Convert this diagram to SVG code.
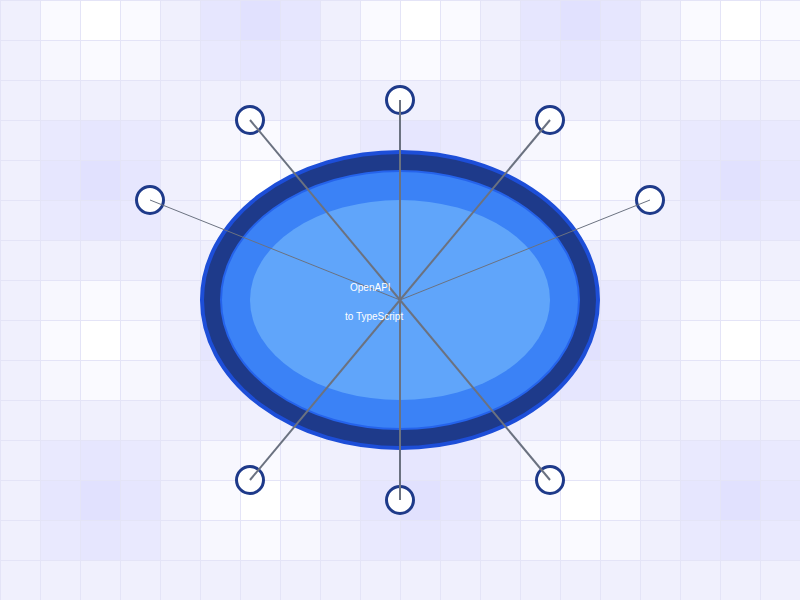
<svg xmlns="http://www.w3.org/2000/svg" xmlns:xlink="http://www.w3.org/1999/xlink" width="800" height="600" viewBox="0 0 800 600">
<style>
.p10{fill:#ffffff}.p7{fill:#fafaff}.p5{fill:#f7f7fe}.z{fill:#f0f0fd}.n5{fill:#e9e9fe}.n7{fill:#e6e6fe}.n10{fill:#e1e1fe}
.grid{fill:none;stroke:#e4e4f7;stroke-width:1}
.conn{stroke:#6b7280;stroke-width:2;fill:none}
.conn.thin{stroke-width:1}
.leaf{fill:#ffffff;stroke:#1e3a8a;stroke-width:3}
.lbl{font-family:"Liberation Sans",Arial,sans-serif;font-size:10px;fill:#ffffff}
</style>
<defs>
<g id="rA"><rect class="p7" x="40" width="40" height="40"/><rect class="p10" x="80" width="40" height="40"/><rect class="p7" x="120" width="40" height="40"/><rect class="n7" x="200" width="40" height="40"/><rect class="n10" x="240" width="40" height="40"/><rect class="n7" x="280" width="40" height="40"/><rect class="p7" x="360" width="40" height="40"/><rect class="p10" x="400" width="40" height="40"/><rect class="p7" x="440" width="40" height="40"/><rect class="n7" x="520" width="40" height="40"/><rect class="n10" x="560" width="40" height="40"/><rect class="n7" x="600" width="40" height="40"/><rect class="p7" x="680" width="40" height="40"/><rect class="p10" x="720" width="40" height="40"/><rect class="p7" x="760" width="40" height="40"/></g>
<g id="rB"><rect class="p5" x="40" width="40" height="40"/><rect class="p7" x="80" width="40" height="40"/><rect class="p5" x="120" width="40" height="40"/><rect class="n5" x="200" width="40" height="40"/><rect class="n7" x="240" width="40" height="40"/><rect class="n5" x="280" width="40" height="40"/><rect class="p5" x="360" width="40" height="40"/><rect class="p7" x="400" width="40" height="40"/><rect class="p5" x="440" width="40" height="40"/><rect class="n5" x="520" width="40" height="40"/><rect class="n7" x="560" width="40" height="40"/><rect class="n5" x="600" width="40" height="40"/><rect class="p5" x="680" width="40" height="40"/><rect class="p7" x="720" width="40" height="40"/><rect class="p5" x="760" width="40" height="40"/></g>
<g id="rC"><rect class="n5" x="40" width="40" height="40"/><rect class="n7" x="80" width="40" height="40"/><rect class="n5" x="120" width="40" height="40"/><rect class="p5" x="200" width="40" height="40"/><rect class="p7" x="240" width="40" height="40"/><rect class="p5" x="280" width="40" height="40"/><rect class="n5" x="360" width="40" height="40"/><rect class="n7" x="400" width="40" height="40"/><rect class="n5" x="440" width="40" height="40"/><rect class="p5" x="520" width="40" height="40"/><rect class="p7" x="560" width="40" height="40"/><rect class="p5" x="600" width="40" height="40"/><rect class="n5" x="680" width="40" height="40"/><rect class="n7" x="720" width="40" height="40"/><rect class="n5" x="760" width="40" height="40"/></g>
<g id="rD"><rect class="n7" x="40" width="40" height="40"/><rect class="n10" x="80" width="40" height="40"/><rect class="n7" x="120" width="40" height="40"/><rect class="p7" x="200" width="40" height="40"/><rect class="p10" x="240" width="40" height="40"/><rect class="p7" x="280" width="40" height="40"/><rect class="n7" x="360" width="40" height="40"/><rect class="n10" x="400" width="40" height="40"/><rect class="n7" x="440" width="40" height="40"/><rect class="p7" x="520" width="40" height="40"/><rect class="p10" x="560" width="40" height="40"/><rect class="p7" x="600" width="40" height="40"/><rect class="n7" x="680" width="40" height="40"/><rect class="n10" x="720" width="40" height="40"/><rect class="n7" x="760" width="40" height="40"/></g>
</defs>
<g id="background">
<rect class="z" x="0" y="0" width="800" height="600"/>
<use xlink:href="#rA" href="#rA" y="0"/>
<use xlink:href="#rB" href="#rB" y="40"/>
<use xlink:href="#rC" href="#rC" y="120"/>
<use xlink:href="#rD" href="#rD" y="160"/>
<use xlink:href="#rC" href="#rC" y="200"/>
<use xlink:href="#rB" href="#rB" y="280"/>
<use xlink:href="#rA" href="#rA" y="320"/>
<use xlink:href="#rB" href="#rB" y="360"/>
<use xlink:href="#rC" href="#rC" y="440"/>
<use xlink:href="#rD" href="#rD" y="480"/>
<use xlink:href="#rC" href="#rC" y="520"/>
<path class="grid" d="M0.5 0V600M40.5 0V600M80.5 0V600M120.5 0V600M160.5 0V600M200.5 0V600M240.5 0V600M280.5 0V600M320.5 0V600M360.5 0V600M400.5 0V600M440.5 0V600M480.5 0V600M520.5 0V600M560.5 0V600M600.5 0V600M640.5 0V600M680.5 0V600M720.5 0V600M760.5 0V600M0 0.5H800M0 40.5H800M0 80.5H800M0 120.5H800M0 160.5H800M0 200.5H800M0 240.5H800M0 280.5H800M0 320.5H800M0 360.5H800M0 400.5H800M0 440.5H800M0 480.5H800M0 520.5H800M0 560.5H800"/>
</g>
<g id="hub">
<ellipse cx="400" cy="300" rx="198" ry="148" fill="#1e3a8a" stroke="#1d4ed8" stroke-width="4"/>
<ellipse cx="400" cy="300" rx="179" ry="129" fill="#3b82f6" stroke="#2563eb" stroke-width="2"/>
<ellipse cx="400" cy="300" rx="150" ry="100" fill="#60a5fa"/>
</g>
<g id="leaf-n"><circle class="leaf" cx="400" cy="100" r="13.5"/></g>
<g id="leaf-nw"><circle class="leaf" cx="250" cy="120" r="13.5"/></g>
<g id="leaf-ne"><circle class="leaf" cx="550" cy="120" r="13.5"/></g>
<g id="leaf-w"><circle class="leaf" cx="150" cy="200" r="13.5"/></g>
<g id="leaf-e"><circle class="leaf" cx="650" cy="200" r="13.5"/></g>
<g id="leaf-sw"><circle class="leaf" cx="250" cy="480" r="13.5"/></g>
<g id="leaf-s"><circle class="leaf" cx="400" cy="500" r="13.5"/></g>
<g id="leaf-se"><circle class="leaf" cx="550" cy="480" r="13.5"/></g>
<g id="connectors">
<line class="conn" x1="400" y1="300" x2="400" y2="100"/>
<line class="conn" x1="400" y1="300" x2="250" y2="120"/>
<line class="conn" x1="400" y1="300" x2="550" y2="120"/>
<line class="conn thin" x1="400" y1="300" x2="150" y2="200"/>
<line class="conn thin" x1="400" y1="300" x2="650" y2="200"/>
<line class="conn" x1="400" y1="300" x2="250" y2="480"/>
<line class="conn" x1="400" y1="300" x2="400" y2="500"/>
<line class="conn" x1="400" y1="300" x2="550" y2="480"/>
</g>
<g id="hub-label">
<text class="lbl" x="350" y="291">OpenAPI</text>
<text class="lbl" x="345" y="320">to TypeScript</text>
</g>
</svg>
